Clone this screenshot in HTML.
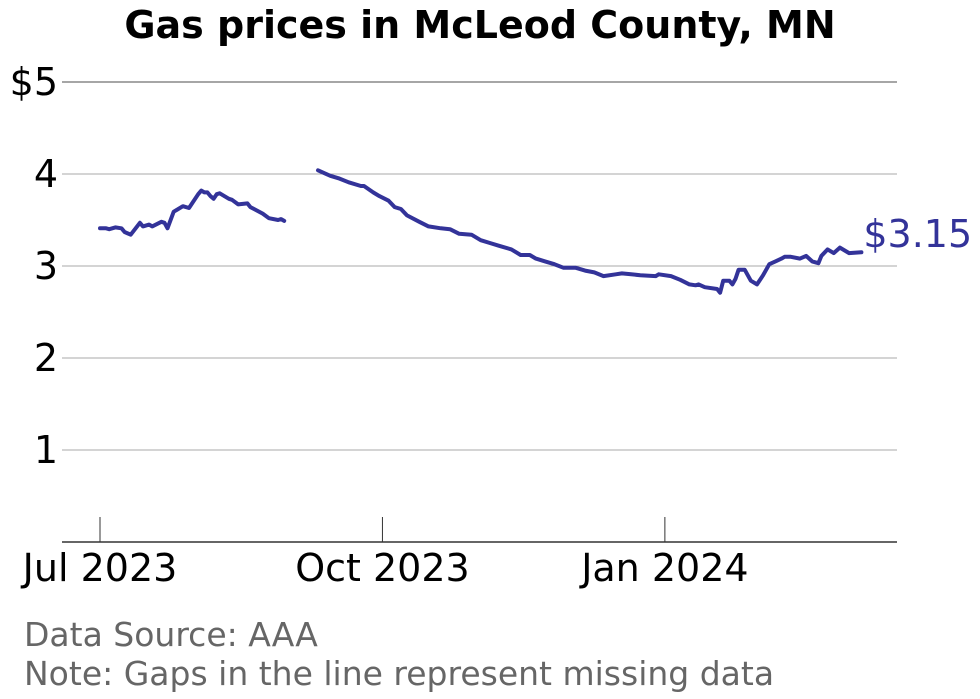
<!DOCTYPE html>
<html><head><meta charset="utf-8"><style>
body{margin:0;background:#fff;}
svg{display:block;font-family:"DejaVu Sans","Liberation Sans",sans-serif;}
</style></head><body>
<svg width="980" height="699" viewBox="0 0 980 699">
<text x="480" y="38" text-anchor="middle" font-size="38" font-weight="bold" fill="#000">Gas prices in McLeod County, MN</text>
<g id="grid"></g>
<g id="xaxis"></g>
<g id="lines"></g>
<text x="24" y="646" font-size="33" fill="#666">Data Source: AAA</text>
<text x="24" y="685" font-size="33" fill="#666">Note: Gaps in the line represent missing data</text>
</svg>
<script>
// day offsets from Jul 1 2023
const seg1Days=[0,2,3,5,7,8,10,13,14,16,17,20,21,22,24,25,27,29,32,33,34,35,36,37,38,39,42,43,45,48,49,53,55,58,59,60];
const seg1Prices=[3.41,3.41,3.40,3.42,3.41,3.37,3.34,3.47,3.43,3.45,3.43,3.48,3.47,3.41,3.59,3.61,3.65,3.63,3.78,3.82,3.80,3.80,3.76,3.73,3.78,3.79,3.73,3.72,3.67,3.68,3.64,3.57,3.52,3.50,3.51,3.49];
const seg2Days=[71,73,75,78,81,85,86,89,91,94,96,98,100,104,107,111,114,117,121,124,127,130,134,137,140,142,145,148,151,155,158,161,164,168,170,173,176,181,182,186,189,192,194,195,197,201,202,203,205,206,207,208,210,212,214,216,218,220,222,223,225,228,230,232,234,235,237,239,241,244,248];
const seg2Prices=[4.04,4.01,3.98,3.95,3.91,3.87,3.87,3.80,3.76,3.71,3.64,3.62,3.55,3.48,3.43,3.41,3.40,3.35,3.34,3.28,3.25,3.22,3.18,3.12,3.12,3.08,3.05,3.02,2.98,2.98,2.95,2.93,2.89,2.91,2.92,2.91,2.90,2.89,2.91,2.89,2.85,2.80,2.79,2.80,2.77,2.75,2.71,2.84,2.84,2.80,2.86,2.96,2.96,2.84,2.80,2.90,3.02,3.05,3.08,3.10,3.10,3.08,3.11,3.05,3.03,3.11,3.18,3.14,3.20,3.14,3.15];
const yTicks=[1,2,3,4,5];
const yTickLabels=["1","2","3","4","$5"];
const xTickDays=[0,92,184];
const xTickLabels=["Jul 2023","Oct 2023","Jan 2024"];
const lastLabel="$3.15";

const NS="http://www.w3.org/2000/svg";
const xs=d=>100+d*3.07;
const ys=p=>542-p*92;
function mk(tag,attrs,parent){const e=document.createElementNS(NS,tag);for(const k in attrs)e.setAttribute(k,attrs[k]);parent.appendChild(e);return e;}
const grid=document.getElementById('grid'),xa=document.getElementById('xaxis'),lines=document.getElementById('lines');
yTicks.forEach((t,i)=>{
  const l=mk('line',{x1:62,x2:897,y1:ys(t),y2:ys(t),stroke:t===5?'#888':'#aaa','stroke-width':t===5?1.5:1},grid);
  
  
  const tx=mk('text',{x:58,y:ys(t)+13,'text-anchor':'end','font-size':38,fill:'#000'},grid);
  tx.textContent=yTickLabels[i];
  
  
});
const ax=mk('line',{x1:62,x2:897,y1:542,y2:542,stroke:'#333','stroke-width':1.5},xa);


xTickDays.forEach((d,i)=>{
  const tk=mk('line',{x1:xs(d),x2:xs(d),y1:517,y2:542,stroke:'#333','stroke-width':1},xa);
  
  
  const tx=mk('text',{x:xs(d),y:581,'text-anchor':'middle','font-size':38,fill:'#000'},xa);
  tx.textContent=xTickLabels[i];
  
  
});
[[seg1Days,seg1Prices],[seg2Days,seg2Prices]].forEach(([ds,ps],j)=>{
  const pts=ds.map((d,i)=>xs(d).toFixed(1)+','+ys(ps[i]).toFixed(1)).join(' ');
  const pl=mk('polyline',{points:pts,fill:'none',stroke:'#333399','stroke-width':4,'stroke-linejoin':'round','stroke-linecap':'round'},lines);
  
  
});
const ld=seg2Days[seg2Days.length-1],lp=seg2Prices[seg2Prices.length-1];
const lab=mk('text',{x:xs(ld)+2,y:ys(lp)-5,'font-size':38,fill:'#333399'},lines);
lab.textContent=lastLabel;


</script>
</body></html>
